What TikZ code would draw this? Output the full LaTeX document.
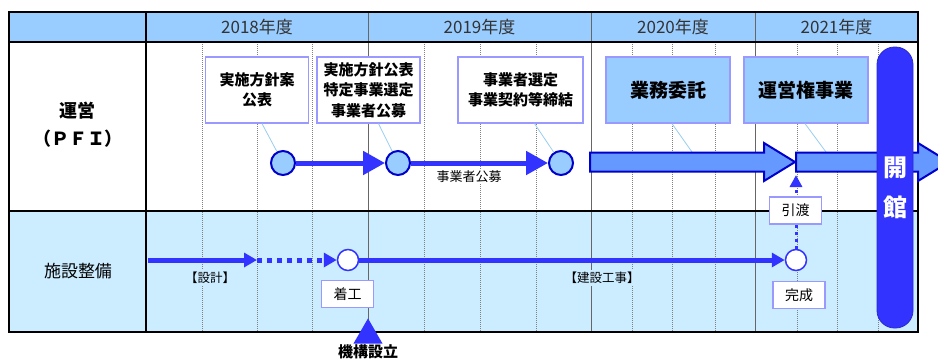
\documentclass[tikz,border=0pt]{standalone}
\usepackage{fontspec}
\setmainfont{Noto Sans CJK JP}
\usepackage{tikz}
\usetikzlibrary{positioning, calc, arrows.meta, shapes.geometric}
\definecolor{headblue}{HTML}{99CCFF}
\definecolor{rowblue}{HTML}{CCECFF}
\definecolor{navy}{HTML}{0000CC}
\definecolor{flowblue}{HTML}{3333FF}
\definecolor{fatblue}{HTML}{6699FF}
\definecolor{boxline}{HTML}{9999FF}
\definecolor{leadblue}{HTML}{99CCEE}
\definecolor{quartergray}{HTML}{808080}
\tikzstyle{quarter}=[draw=quartergray, line width=0.9pt, dash pattern=on 1pt off 1pt]
\tikzstyle{yearline}=[draw=black!60, line width=1pt]
\tikzstyle{tableframe}=[draw=black, line width=2pt]
\tikzstyle{yearhead}=[font=\fontsize{17}{17}\selectfont, text=black!80, inner sep=0pt]
\tikzstyle{callout}=[rectangle, draw=boxline, line width=1.2pt, fill=white, minimum height=66pt, align=center, inner sep=0pt, font=\bfseries\fontsize{15}{20.5}\selectfont]
\tikzstyle{keycallout}=[callout, fill=headblue, minimum width=124pt, font=\bfseries\fontsize{19}{22}\selectfont]
\tikzstyle{milestone}=[circle, draw=navy, line width=2pt, fill=headblue, minimum size=24pt, inner sep=0pt]
\tikzstyle{workpoint}=[circle, draw=flowblue, line width=1.5pt, fill=white, minimum size=21pt, inner sep=0pt]
\tikzstyle{flow}=[line width=5pt, draw=flowblue, -{Triangle[length=22pt, width=23pt]}]
\tikzstyle{workflow}=[line width=5pt, draw=flowblue, -{Triangle[length=13pt, width=14pt]}]
\tikzstyle{workdots}=[workflow, dash pattern=on 5pt off 5pt]
\tikzstyle{handdots}=[line width=3pt, draw=flowblue, dash pattern=on 3pt off 4pt, -{Triangle[length=12pt, width=12pt]}]
\tikzstyle{leader}=[draw=leadblue, line width=0.8pt]
\tikzstyle{fatarrow}=[draw=navy, line width=2pt, fill=fatblue]
\tikzstyle{tag}=[rectangle, draw=boxline, line width=1.2pt, fill=white, minimum width=52pt, minimum height=27pt, inner sep=0pt, font=\fontsize{14}{14}\selectfont]
\tikzstyle{worklabel}=[fill=rowblue, inner sep=2pt, font=\fontsize{12.5}{12.5}\selectfont]
\tikzstyle{opening}=[rectangle, draw=flowblue!80!black, line width=0.8pt, fill=flowblue, rounded corners=17.5pt, minimum width=36pt, minimum height=281pt, align=center, text=white, font=\bfseries\fontsize{24}{40}\selectfont]
\tikzstyle{establish}=[regular polygon, regular polygon sides=3, fill=flowblue, minimum size=33.5pt, inner sep=0pt]

\begin{document}
\begin{tikzpicture}[x=1pt, y=-1pt]
        \clip (0,0) rectangle (938,360);
        % Draw the table
        \fill[headblue] (9,12) rectangle (918,42);
        \fill[rowblue] (9,211) rectangle (918,332);
        \foreach \x in {202,257,312,424,480,536,632,672,715,797,837,878} {
            \draw[quarter] (\x,42) -- (\x,332);
        }
        \foreach \x in {368,591,755} {
            \draw[yearline] (\x,12) -- (\x,332);
        }
        \draw[line width=1.5pt] (146,12) -- (146,332);
        \draw[line width=1.5pt] (9,42) -- (918,42);
        \draw[line width=2.5pt] (9,211) -- (918,211);
        \draw[tableframe] (9,12) rectangle (918,332);

        \foreach \x/\y in {257/2018, 479.5/2019, 673/2020, 836.5/2021} {
            \node[yearhead] (year \y) at (\x,27) {\y{}年度};
        }

        % Row titles
        \node[align=center, font=\bfseries\fontsize{18}{28}\selectfont] (pfi) at (78,125) {運営\\（ＰＦＩ）};
        \node[font=\fontsize{17}{17}\selectfont] (works) at (78,271) {施設整備};

        % Operation (PFI)
        \node[callout, minimum width=103pt] (draft plan) at (257,90) {実施方針案\\公表};
        \node[callout, minimum width=103pt] (plan notice) at (368.5,90) {実施方針公表\\特定事業選定\\事業者公募};
        \node[callout, minimum width=125pt] (operator choice) at (520.5,90) {事業者選定\\事業契約等締結};
        \node[keycallout] (consign) at (668,90) {業務委託};
        \node[keycallout] (concession) at (806,90) {運営権事業};

        \node[milestone] (draft point) at (283,163) {};
        \node[milestone] (notice point) at (398,163) {};
        \node[milestone] (choice point) at (561,163) {};
        \draw[leader] ([xshift=5pt]draft plan.south) -- (draft point);
        \draw[leader] ([xshift=10pt]plan notice.south) -- (notice point);
        \draw[leader] ([xshift=14pt]operator choice.south) -- (choice point);
        \draw[flow] (draft point) -- (notice point);
        \draw[flow] (notice point) -- (choice point);
        \node[fill=white, inner sep=1pt, font=\fontsize{13}{13}\selectfont] (tender) at (469,177) {事業者公募};

        \coordinate (consign end) at (692,152);
        \coordinate (concession end) at (826,152);
        \draw[leader] ([xshift=4pt]consign.south) -- (consign end);
        \draw[leader] ([xshift=-1pt]concession.south) -- (concession end);
        \draw[fatarrow] (590,152.5) -- (764,152.5) -- (764,143) -- (795,162) -- (764,181) -- (764,171.5) -- (590,171.5) -- cycle;
        \draw[fatarrow] (796,152.5) -- (918,152.5) -- (918,143) -- (949,162) -- (918,181) -- (918,171.5) -- (796,171.5) -- cycle;

        % Facility works
        \coordinate (design start) at (148,260);
        \coordinate (design end) at (257,260);
        \node[workpoint] (start works) at (348,260) {};
        \node[workpoint] (finish works) at (796,260) {};
        \draw[workflow] (design start) -- (design end);
        \draw[workdots] (design end) -- (start works);
        \draw[workflow] (start works) -- (finish works);
        \node[worklabel] (design) at (210,278) {【設計】};
        \node[worklabel] (build) at (602,278) {【建設工事】};
        \node[tag] (start tag) at (347.5,294) {着工};
        \node[tag] (finish tag) at (799,295) {完成};

        \coordinate (handover end) at (796,175);
        \draw[handdots] (finish works) -- (handover end);
        \node[tag] (handover) at (795.5,210.5) {引渡};

        % Opening
        \node[opening] (opening) at (895,187.5) {開\\館};

        % Establishment
        \node[establish, anchor=corner 1] (est mark) at (368,318) {};
        \node[below=0.5pt of est mark, fill=white, inner sep=0pt, font=\bfseries\fontsize{15}{15}\selectfont] (est label) {機構設立};
    \end{tikzpicture}
\end{document}
